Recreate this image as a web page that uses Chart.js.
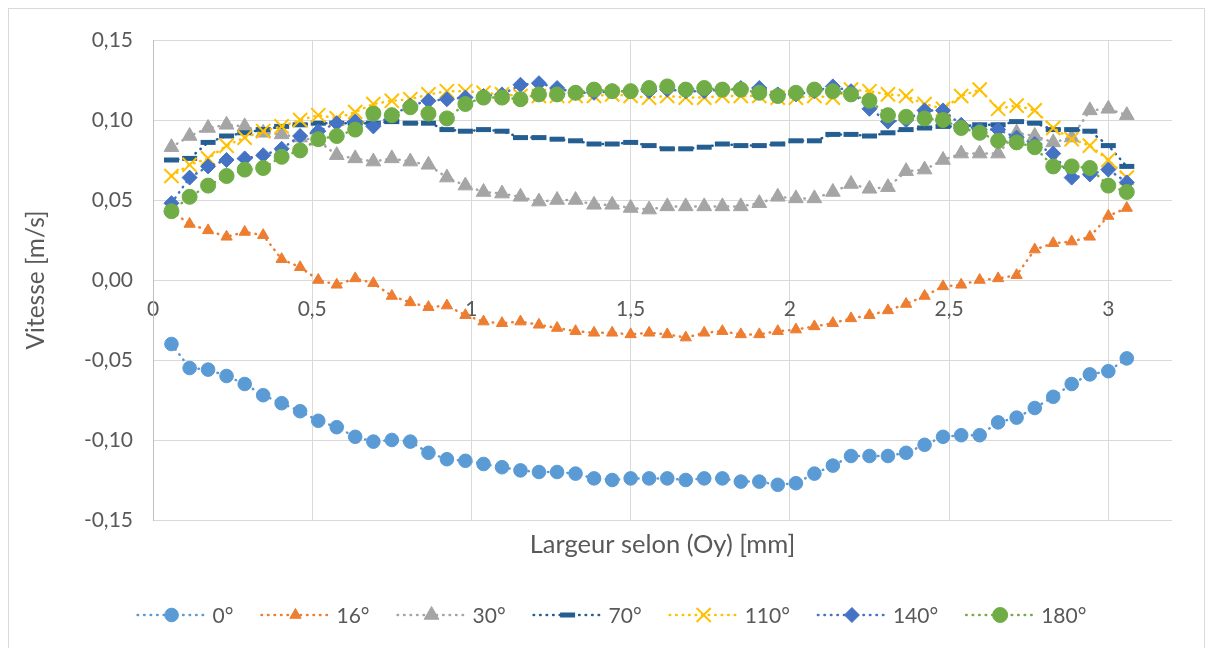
<!DOCTYPE html>
<html>
<head>
<meta charset="utf-8">
<script src="https://cdn.jsdelivr.net/npm/chart.js@4.4.1/dist/chart.umd.min.js"></script>
<style>
  html, body { margin: 0; padding: 0; background: #fff; }
  canvas { display: block; }
</style>
</head>
<body>
<canvas id="vitesseChart" width="1213" height="648"></canvas>
<script>
// Largeur selon (Oy) [mm]
const largeur = [
  0.058, 0.115, 0.173, 0.231, 0.288, 0.346, 0.404, 0.462, 0.519, 0.577,
  0.635, 0.692, 0.750, 0.808, 0.865, 0.923, 0.981, 1.038, 1.096, 1.154,
  1.212, 1.269, 1.327, 1.385, 1.442, 1.500, 1.558, 1.615, 1.673, 1.731,
  1.788, 1.846, 1.904, 1.962, 2.019, 2.077, 2.135, 2.192, 2.250, 2.308,
  2.365, 2.423, 2.481, 2.538, 2.596, 2.654, 2.712, 2.769, 2.827, 2.885,
  2.942, 3.000, 3.058,
];

// Vitesse [m/s] per angle
const v0 = [
  -0.040, -0.055, -0.056, -0.060, -0.065, -0.072, -0.077, -0.082, -0.088, -0.092,
  -0.098, -0.101, -0.100, -0.101, -0.108, -0.112, -0.113, -0.115, -0.117, -0.119,
  -0.120, -0.120, -0.121, -0.124, -0.125, -0.124, -0.124, -0.124, -0.125, -0.124,
  -0.124, -0.126, -0.126, -0.128, -0.127, -0.121, -0.116, -0.110, -0.110, -0.110,
  -0.108, -0.103, -0.098, -0.097, -0.097, -0.089, -0.086, -0.080, -0.073, -0.065,
  -0.059, -0.057, -0.049,
];
const v16 = [
  0.043, 0.035, 0.031, 0.027, 0.030, 0.028, 0.013, 0.008, 0.000, -0.003,
  0.001, -0.002, -0.010, -0.014, -0.017, -0.016, -0.022, -0.026, -0.027, -0.026,
  -0.028, -0.030, -0.032, -0.033, -0.033, -0.034, -0.033, -0.034, -0.036, -0.033,
  -0.032, -0.034, -0.034, -0.032, -0.031, -0.029, -0.027, -0.024, -0.022, -0.019,
  -0.015, -0.010, -0.004, -0.003, 0.000, 0.001, 0.003, 0.019, 0.023, 0.024,
  0.027, 0.040, 0.045,
];
const v30 = [
  0.083, 0.090, 0.095, 0.097, 0.096, 0.092, 0.091, 0.089, 0.087, 0.078,
  0.076, 0.074, 0.076, 0.074, 0.072, 0.064, 0.059, 0.055, 0.054, 0.052,
  0.049, 0.050, 0.050, 0.047, 0.047, 0.045, 0.044, 0.046, 0.046, 0.046,
  0.046, 0.046, 0.048, 0.052, 0.051, 0.051, 0.055, 0.060, 0.057, 0.058,
  0.068, 0.069, 0.075, 0.079, 0.079, 0.079, 0.092, 0.090, 0.086, 0.089,
  0.106, 0.107, 0.103,
];
const v70 = [
  0.075, 0.076, 0.086, 0.090, 0.092, 0.094, 0.096, 0.097, 0.098, 0.098,
  0.098, 0.098, 0.099, 0.098, 0.098, 0.094, 0.093, 0.094, 0.093, 0.089,
  0.089, 0.088, 0.087, 0.085, 0.085, 0.086, 0.084, 0.082, 0.082, 0.083,
  0.085, 0.084, 0.084, 0.085, 0.087, 0.087, 0.091, 0.091, 0.090, 0.092,
  0.094, 0.095, 0.096, 0.096, 0.097, 0.097, 0.099, 0.098, 0.094, 0.094,
  0.093, 0.084, 0.071,
];
const v110 = [
  0.065, 0.072, 0.076, 0.084, 0.089, 0.093, 0.096, 0.100, 0.103, 0.101,
  0.105, 0.110, 0.112, 0.113, 0.116, 0.118, 0.118, 0.117, 0.116, 0.115,
  0.115, 0.115, 0.115, 0.115, 0.116, 0.115, 0.114, 0.115, 0.114, 0.114,
  0.115, 0.115, 0.115, 0.114, 0.114, 0.115, 0.114, 0.119, 0.118, 0.116,
  0.115, 0.110, 0.107, 0.115, 0.119, 0.107, 0.109, 0.106, 0.095, 0.088,
  0.084, 0.075, 0.064,
];
const v140 = [
  0.048, 0.064, 0.071, 0.075, 0.076, 0.078, 0.082, 0.090, 0.093, 0.098,
  0.099, 0.096, 0.103, 0.109, 0.112, 0.113, 0.114, 0.115, 0.116, 0.122,
  0.123, 0.120, 0.117, 0.117, 0.118, 0.118, 0.118, 0.119, 0.118, 0.118,
  0.119, 0.120, 0.120, 0.116, 0.116, 0.118, 0.121, 0.118, 0.107, 0.099,
  0.100, 0.106, 0.106, 0.097, 0.094, 0.094, 0.089, 0.085, 0.079, 0.064,
  0.066, 0.069, 0.061,
];
const v180 = [
  0.043, 0.052, 0.059, 0.065, 0.069, 0.070, 0.077, 0.081, 0.088, 0.090,
  0.094, 0.104, 0.103, 0.108, 0.104, 0.101, 0.110, 0.114, 0.114, 0.113,
  0.116, 0.116, 0.117, 0.119, 0.118, 0.118, 0.120, 0.121, 0.119, 0.120,
  0.119, 0.119, 0.117, 0.115, 0.117, 0.119, 0.118, 0.116, 0.112, 0.103,
  0.102, 0.101, 0.100, 0.095, 0.092, 0.087, 0.086, 0.083, 0.071, 0.071,
  0.070, 0.059, 0.055,
];

const seriesLabels = ["0°", "16°", "30°", "70°", "110°", "140°", "180°"];
const seriesValues = [v0, v16, v30, v70, v110, v140, v180];
const seriesColors = ["#5b9bd5", "#ed7d31", "#a5a5a5", "#255e91", "#ffc000", "#4472c4", "#70ad47"];

const FONT = "Lato, 'Open Sans', sans-serif";
const TEXT_COLOR = "#595959";
const GRID_COLOR = "#d9d9d9";

// marker look for each series (Excel-like)
const markers = [
  { style: "circle", radius: 6.8, border: 1 },
  { style: "triangle", radius: 6.5, border: 1 },
  { style: "triangle", radius: 8.5, border: 1 },
  { style: "line", radius: 7.5, border: 5 },
  { style: "crossRot", radius: 10, border: 2 },
  { style: "rectRot", radius: 7.5, border: 1 },
  { style: "circle", radius: 7.5, border: 1 },
];

function commaNumber(value, digits) {
  return value.toFixed(digits).replace(".", ",");
}

const datasets = seriesLabels.map((label, i) => ({
  label: label,
  data: largeur.map((x, j) => ({ x: x, y: seriesValues[i][j] })),
  borderColor: seriesColors[i],
  backgroundColor: seriesColors[i],
  borderWidth: 2.5,
  borderDash: [0.5, 6],
  borderCapStyle: "round",
  showLine: true,
  tension: 0,
  pointStyle: markers[i].style,
  pointRadius: markers[i].radius,
  pointBorderWidth: markers[i].border,
  pointBackgroundColor: seriesColors[i],
  pointBorderColor: seriesColors[i],
  pointHoverRadius: markers[i].radius,
  order: seriesLabels.length - i, // later series on top, like Excel
}));

// White background and the thin chart frame
const framePlugin = {
  id: "frame",
  beforeDraw(chart) {
    const ctx = chart.ctx;
    ctx.save();
    ctx.fillStyle = "#fff";
    ctx.fillRect(0, 0, chart.width, chart.height);
    ctx.strokeStyle = GRID_COLOR;
    ctx.lineWidth = 1;
    ctx.strokeRect(8.5, 8.5, chart.width - 17, chart.height + 40);
    ctx.restore();
  },
};

// Legend drawn as in Excel: dotted line with the marker in the middle
const legendPlugin = {
  id: "excelLegend",
  afterDraw(chart) {
    const ctx = chart.ctx;
    const lineLen = 70;
    const gapText = 6;
    const gapItem = 27;
    const y = 615;
    ctx.save();
    ctx.font = "21px " + FONT;
    const items = chart.data.datasets.map((ds) => ({
      ds: ds,
      w: lineLen + gapText + ctx.measureText(ds.label).width,
    }));
    const total = items.reduce((s, it) => s + it.w, 0) + gapItem * (items.length - 1);
    let x = (chart.width - total) / 2 + 5;
    items.forEach(({ ds, w }) => {
      ctx.strokeStyle = ds.borderColor;
      ctx.lineWidth = ds.borderWidth;
      ctx.lineCap = "round";
      ctx.setLineDash(ds.borderDash);
      ctx.beginPath();
      ctx.moveTo(x + 1, y);
      ctx.lineTo(x + lineLen, y);
      ctx.stroke();

      ctx.setLineDash([]);
      ctx.lineCap = "butt";
      ctx.fillStyle = ds.pointBackgroundColor;
      ctx.strokeStyle = ds.pointBorderColor;
      ctx.lineWidth = ds.pointBorderWidth;
      Chart.helpers.drawPoint(
        ctx,
        { pointStyle: ds.pointStyle, radius: ds.pointRadius, borderWidth: ds.pointBorderWidth, rotation: 0 },
        x + lineLen / 2,
        y
      );

      ctx.fillStyle = TEXT_COLOR;
      ctx.textAlign = "left";
      ctx.textBaseline = "middle";
      ctx.fillText(ds.label, x + lineLen + gapText, y + 1);
      x += w + gapItem;
    });
    ctx.restore();
  },
};

const ctx = document.getElementById("vitesseChart").getContext("2d");

const vitesseChart = new Chart(ctx, {
  type: "scatter",
  data: { datasets: datasets },
  plugins: [framePlugin, legendPlugin],
  options: {
    responsive: false,
    animation: false,
    devicePixelRatio: 1,
    events: [],
    layout: {
      padding: { top: 40, right: 41, bottom: 0, left: 0 },
    },
    plugins: {
      legend: { display: false },
      tooltip: { enabled: false },
    },
    scales: {
      x: {
        type: "linear",
        position: { y: 0 },
        min: 0,
        max: 3.2,
        afterBuildTicks: function (axis) {
          axis.ticks = axis.ticks.filter((t) => t.value <= 3.0001);
        },
        grid: {
          color: GRID_COLOR,
          lineWidth: 1,
          drawTicks: false,
        },
        border: { display: false },
        ticks: {
          stepSize: 0.5,
          padding: 17,
          color: TEXT_COLOR,
          font: { family: FONT, size: 21 },
          maxRotation: 0,
          callback: function (value) {
            return Number.isInteger(value) ? String(value) : commaNumber(value, 1);
          },
        },
      },
      x2: {
        type: "linear",
        axis: "x",
        position: "bottom",
        min: 0,
        max: 3.2,
        grid: { display: false },
        border: { display: false },
        ticks: { display: false },
        afterFit: function (scale) {
          scale.height = 128;
        },
        title: {
          display: true,
          text: "Largeur selon (Oy) [mm]",
          color: TEXT_COLOR,
          font: { family: FONT, size: 25.5 },
          padding: { top: 0, bottom: 88 },
        },
      },
      y: {
        type: "linear",
        min: -0.15,
        max: 0.15,
        afterFit: function (scale) {
          scale.width = 153;
        },
        grid: {
          color: GRID_COLOR,
          lineWidth: 1,
          drawTicks: false,
        },
        border: { display: true, color: "#bfbfbf", width: 1 },
        ticks: {
          stepSize: 0.05,
          padding: 20,
          color: TEXT_COLOR,
          font: { family: FONT, size: 21 },
          callback: function (value) {
            return commaNumber(value, 2);
          },
        },
        title: {
          display: true,
          text: "Vitesse [m/s]",
          color: TEXT_COLOR,
          font: { family: FONT, size: 24.5 },
          padding: { top: 21, bottom: 0 },
        },
      },
    },
  },
});
</script>
</body>
</html>
